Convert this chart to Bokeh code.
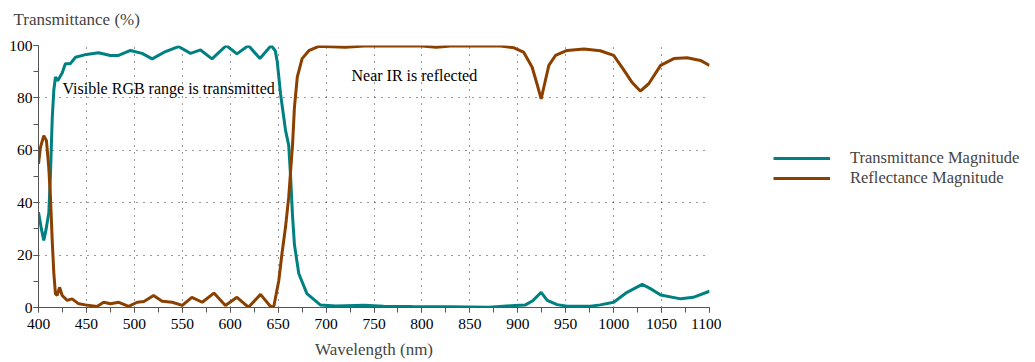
from bokeh.plotting import figure
from bokeh.layouts import row
from bokeh.models import (Label, Legend, LegendItem, SingleIntervalTicker, Range1d)
from bokeh.embed import file_html
from bokeh.resources import INLINE

# ---- data ----
wl_trans = [400, 403, 405.5, 408, 410.8, 412.5, 414.3, 416, 417.7, 420, 424.7, 428, 433,
            438.6, 450, 462.6, 475, 483.5, 496, 508, 518.6, 532.5, 546, 558.6, 569, 581,
            596, 607, 619, 631, 642.7, 647, 649, 652.5, 657.7, 661, 663, 665, 667, 671.5,
            680, 694, 710, 740, 760, 790, 830, 870, 897, 908, 916, 924.4, 930.7, 941,
            951.5, 975.8, 986, 1000, 1014, 1029.8, 1038.4, 1049, 1070, 1083, 1100]
transmittance = [36.4, 30, 25.6, 30, 36.4, 51, 72, 83, 88, 86.5, 89.5, 93, 93,
                 95.5, 96.6, 97.2, 96.2, 96.2, 98.1, 97, 94.9, 97.7, 99.6, 97, 98.3, 94.9,
                 100, 96.8, 100, 95, 100, 98, 94, 81.6, 67.6, 62, 50, 35, 24, 13,
                 5.3, 1, 0.6, 0.9, 0.5, 0.4, 0.3, 0.1, 0.8, 1, 2.7, 5.8, 2.7, 1.1,
                 0.5, 0.5, 1, 2, 5.8, 8.8, 7.2, 4.8, 3.3, 3.9, 6.2]

wl_refl = [400, 402, 405.5, 408.3, 410.7, 412.5, 414.3, 416, 417.7, 419.5, 422, 424.7, 430,
           435, 442, 449, 461, 468, 475, 483.8, 494, 503, 510, 520, 529, 539.5, 550, 560,
           570.8, 583, 595, 607, 619, 631.6, 642.7, 645.5, 650.7, 654, 657.7, 661, 663, 665,
           667, 670, 675, 682, 692.4, 720, 740, 800, 815, 830, 882, 896, 906, 915, 920,
           924.4, 928, 932.4, 939.3, 951.5, 969, 986, 1000, 1010, 1019, 1027.8, 1036.6,
           1049, 1062.8, 1076.7, 1090.6, 1100]
reflectance = [54.8, 61, 65.6, 63.7, 53.5, 42, 25.6, 13, 5.2, 4.6, 7.7, 4.6, 2.7,
               3.3, 1.4, 1, 0.4, 2, 1.4, 2, 0.4, 2, 2.3, 4.6, 2.4, 2, 0.8, 3.9,
               2, 5.5, 0.8, 3.9, 0.1, 5, 0.1, 0.5, 10.3, 20.6, 30.7, 42, 52, 62,
               76.4, 88, 95, 98, 99.7, 99.3, 99.8, 99.8, 99.3, 99.8, 99.8, 99.1, 97.5, 91.7, 85.4,
               79.6, 85.4, 92.4, 96.2, 98.1, 98.7, 98, 96.2, 91, 86, 82.6, 85.4,
               92.4, 95, 95.3, 94.3, 92.4]

series_names = ["Transmittance Magnitude", "Reflectance Magnitude"]
annotations = [("Visible RGB range is transmitted", 425, 83.6),
               ("Near IR is reflected", 726.5, 88.5)]

FONT = "Liberation Serif"
TEAL = "#008080"
BROWN = "#8B4000"

p = figure(width=721, height=362, output_backend="svg", toolbar_location=None,
           x_range=Range1d(400, 1100), y_range=Range1d(0, 100),
           min_border_left=38, min_border_right=12, min_border_top=45, min_border_bottom=55,
           title="Transmittance (%)")
p.outline_line_color = None
p.background_fill_color = "white"
p.border_fill_color = "white"

p.title.text_font = FONT
p.title.text_font_size = "17px"
p.title.text_font_style = "normal"
p.title.align = "left"
p.title.offset = -25
p.title.standoff = 14
p.title.padding = dict(left=0, right=0, top=0, bottom=10)

for ax in (p.xaxis[0], p.yaxis[0]):
    ax.axis_line_color = "#555555"
    ax.major_tick_line_color = "#555555"
    ax.minor_tick_line_color = "#555555"
    ax.major_tick_in = 0
    ax.minor_tick_in = 0
    ax.major_tick_out = 5
    ax.minor_tick_out = 5
    ax.major_label_text_font = FONT
    ax.major_label_text_font_size = "15.5px"
    ax.major_label_text_color = "black"
    ax.axis_label_text_font = FONT
    ax.axis_label_text_font_size = "17px"
    ax.axis_label_text_font_style = "normal"

p.xaxis[0].ticker = SingleIntervalTicker(interval=50, num_minor_ticks=2)
p.yaxis[0].ticker = SingleIntervalTicker(interval=20, num_minor_ticks=2)
p.xaxis[0].axis_label = "Wavelength (nm)"
p.xaxis[0].major_label_standoff = 6
p.xaxis[0].axis_label_standoff = 8
p.yaxis[0].major_label_standoff = 1

for g in (p.xgrid[0], p.ygrid[0]):
    g.grid_line_color = "#333333"
    g.grid_line_dash = "1 6"
    g.grid_line_width = 1

p.line(wl_trans, transmittance, line_color=TEAL, line_width=3)
p.line(wl_refl, reflectance, line_color=BROWN, line_width=3)

for txt, x, y in annotations:
    p.add_layout(Label(x=x, y=y, text=txt, text_font=FONT, text_font_size="16px",
                       text_baseline="middle", text_color="black"))

# legend panel (separate canvas to the right of the plot); same series drawn
# outside its visible range so that only the legend shows
p2 = figure(width=314, height=362, output_backend="svg", toolbar_location=None,
            x_axis_location=None, y_axis_location=None, min_border=0,
            x_range=Range1d(-20, -10), y_range=Range1d(-20, -10))
p2.outline_line_color = None
p2.grid.visible = False
k1 = p2.line(wl_trans, transmittance, line_color=TEAL, line_width=3)
k2 = p2.line(wl_refl, reflectance, line_color=BROWN, line_width=3)
legend = Legend(items=[LegendItem(label=series_names[0], renderers=[k1]),
                       LegendItem(label=series_names[1], renderers=[k2])],
                location=(52, 119), margin=0, padding=0, spacing=0,
                glyph_width=57, glyph_height=18, label_height=18, label_standoff=20,
                label_text_font=FONT, label_text_font_size="16.5px",
                border_line_color=None, background_fill_alpha=0)
p2.add_layout(legend, "center")

layout = row(p, p2, spacing=0)
open("out.html", "w").write(file_html(layout, INLINE))
